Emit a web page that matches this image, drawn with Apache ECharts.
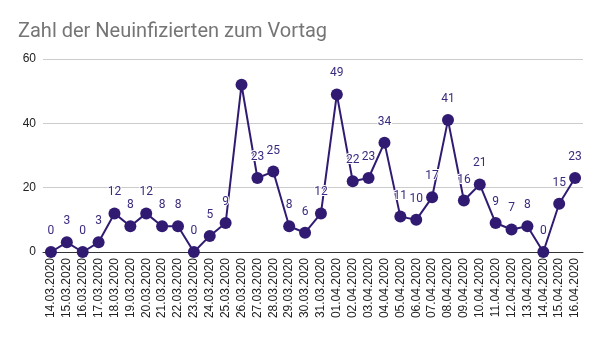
<!DOCTYPE html>
<html>
<head>
<meta charset="utf-8">
<script src="https://cdn.jsdelivr.net/npm/echarts@6/dist/echarts.min.js"></script>
<style>
  html, body { margin: 0; padding: 0; background: #fff; }
  #chart { width: 600px; height: 338px; }
</style>
</head>
<body>
<div id="chart"></div>
<script>
// Daily new infections, reported for the previous day
const dates = [
  '14.03.2020','15.03.2020','16.03.2020','17.03.2020','18.03.2020','19.03.2020',
  '20.03.2020','21.03.2020','22.03.2020','23.03.2020','24.03.2020','25.03.2020',
  '26.03.2020','27.03.2020','28.03.2020','29.03.2020','30.03.2020','31.03.2020',
  '01.04.2020','02.04.2020','03.04.2020','04.04.2020','05.04.2020','06.04.2020',
  '07.04.2020','08.04.2020','09.04.2020','10.04.2020','11.04.2020','12.04.2020',
  '13.04.2020','14.04.2020','15.04.2020','16.04.2020'
];
const newCases = [
  0, 3, 0, 3, 12, 8,
  12, 8, 8, 0, 5, 9,
  52, 23, 25, 8, 6, 12,
  49, 22, 23, 34, 11, 10,
  17, 41, 16, 21, 9, 7,
  8, 0, 15, 23
];
// The peak on 26.03 carries no value label
const unlabeledDates = ['26.03.2020'];
const yTicks = [0, 20, 40, 60];

const lineColor = '#311b72';
const labelColor = '#3b2a7e';

const seriesData = newCases.map((v, i) => ({
  value: v,
  label: { show: unlabeledDates.indexOf(dates[i]) < 0 }
}));

const chart = echarts.init(document.getElementById('chart'));
chart.setOption({
  animation: false,
  title: {
    text: 'Zahl der Neuinfizierten zum Vortag',
    left: 13,
    top: 17,
    textStyle: {
      fontFamily: 'Roboto',
      fontSize: 20,
      fontWeight: 'normal',
      color: '#757575'
    }
  },
  grid: { left: 43, right: 17, top: 59, bottom: 86 },
  xAxis: {
    type: 'category',
    data: dates,
    boundaryGap: true,
    axisLine: { lineStyle: { color: '#333', width: 1 } },
    axisTick: { show: false },
    axisLabel: {
      rotate: 90,
      interval: 0,
      margin: 6,
      fontFamily: 'Liberation Sans',
      fontSize: 12,
      color: '#222'
    }
  },
  yAxis: {
    type: 'value',
    min: yTicks[0],
    max: yTicks[yTicks.length - 1],
    interval: 20,
    axisLine: { show: false },
    axisTick: { show: false },
    splitLine: { lineStyle: { color: '#cccccc', width: 1 } },
    axisLabel: {
      margin: 7,
      fontFamily: 'Liberation Sans',
      fontSize: 12,
      color: '#222'
    }
  },
  series: [{
    type: 'line',
    data: seriesData,
    symbol: 'circle',
    symbolSize: 12,
    lineStyle: { color: lineColor, width: 2 },
    itemStyle: { color: lineColor },
    label: {
      position: 'top',
      distance: 9,
      fontFamily: 'Roboto',
      fontSize: 12,
      color: labelColor,
      textBorderColor: '#ffffff',
      textBorderWidth: 2
    }
  }]
});
</script>
</body>
</html>
